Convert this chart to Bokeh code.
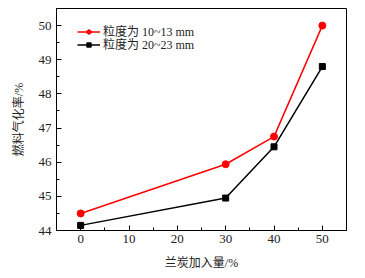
from bokeh.plotting import figure
from bokeh.models import FixedTicker, Legend, LegendItem
from bokeh.embed import file_html
from bokeh.resources import INLINE

x_vals = [0, 30, 40, 50]
fine_vals = [44.5, 45.94, 46.75, 50.0]     # 10~13 mm
coarse_vals = [44.15, 44.95, 46.45, 48.8]  # 20~23 mm
labels = ["粒度为 10~13 mm", "粒度为 20~23 mm"]
x_ticks = [0, 10, 20, 30, 40, 50]
y_ticks = [44, 45, 46, 47, 48, 49, 50]

FONT = "Liberation Serif, Noto Sans CJK SC"

p = figure(width=365, height=278, output_backend="svg", toolbar_location=None,
           x_range=(-5, 55), y_range=(44, 50.5))
p.min_border_left = 56
p.min_border_right = 19
p.min_border_top = 8
p.min_border_bottom = 48
p.grid.visible = False
p.outline_line_color = "black"
p.outline_line_width = 1
p.background_fill_color = "white"
p.border_fill_color = "white"

r1 = p.line(x_vals, fine_vals, line_color="#ff0000", line_width=1.5)
m1 = p.scatter(x_vals, fine_vals, marker="circle", size=7, fill_color="#ff0000", line_color="#ff0000")
r2 = p.line(x_vals, coarse_vals, line_color="black", line_width=1.5)
m2 = p.scatter(x_vals, coarse_vals, marker="square", size=6, fill_color="black", line_color="black")

p.xaxis.ticker = FixedTicker(ticks=x_ticks, minor_ticks=[-5, 5, 15, 25, 35, 45, 55])
p.yaxis.ticker = FixedTicker(ticks=y_ticks, minor_ticks=[44.5 + i for i in range(7)])

for ax in (p.xaxis, p.yaxis):
    ax.major_tick_in = 5
    ax.major_tick_out = 0
    ax.minor_tick_in = 3
    ax.minor_tick_out = 0
    ax.axis_line_color = "black"
    ax.major_tick_line_color = "black"
    ax.minor_tick_line_color = "black"
    ax.major_label_text_font = FONT
    ax.major_label_text_font_size = "13px"
    ax.major_label_text_color = "#222222"
    ax.axis_label_text_font = FONT
    ax.axis_label_text_font_size = "12px"
    ax.axis_label_text_font_style = "normal"
    ax.axis_label_text_color = "#222222"

p.xaxis.axis_label = "兰炭加入量/%"
p.yaxis.axis_label = "燃料气化率/%"
p.xaxis.major_label_standoff = 4
p.yaxis.major_label_standoff = 5
p.xaxis.axis_label_standoff = 10
p.yaxis.axis_label_standoff = 10


def make_legend(label, rends, loc):
    lg = Legend(items=[LegendItem(label=label, renderers=rends)], location=loc)
    lg.glyph_width = 23
    lg.glyph_height = 11
    lg.label_height = 11
    lg.label_standoff = 3
    lg.spacing = 0
    lg.padding = 0
    lg.margin = 0
    lg.border_line_color = None
    lg.background_fill_alpha = 0
    lg.label_text_font = FONT
    lg.label_text_font_size = "12px"
    lg.label_text_color = "#222222"
    return lg


p.add_layout(make_legend(labels[0], [r1, m1], (21, 190)), "center")
p.add_layout(make_legend(labels[1], [r2, m2], (21, 177)), "center")

open("out.html", "w").write(file_html(p, INLINE))
